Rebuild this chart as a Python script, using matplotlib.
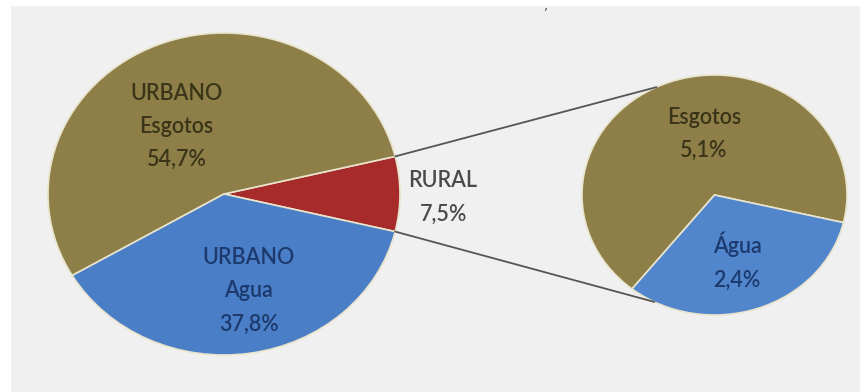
import matplotlib.pyplot as plt
from matplotlib.patches import Rectangle, ConnectionPatch
import numpy as np

# Shares of investment (%)
main_labels = ['RURAL', 'URBANO\nEsgotos', 'URBANO\nAgua']
main_values = [7.5, 54.7, 37.8]
rural_labels = ['Esgotos', 'Água']
rural_values = [5.1, 2.4]

olive = '#8d7f47'
blue = '#4a7ec6'
red = '#a82b2b'

W, H = 860, 392
fig = plt.figure(figsize=(W / 100, H / 100), dpi=100)
fig.patch.set_facecolor('white')

# light gray panel behind the charts
fig.add_artist(Rectangle((11 / W, 0), 1 - 11 / W, 1 - 6 / H,
                         transform=fig.transFigure, facecolor='#f0f0f0',
                         edgecolor='none', zorder=0))
fig.text(546 / W, 1.0, ',', ha='center', va='top', fontsize=9, color='#444444')


def box(x0, y0, x1, y1):
    # pixel box (top-left origin) -> figure fraction rect
    return [x0 / W, 1 - y1 / H, (x1 - x0) / W, (y1 - y0) / H]


def fmt(v):
    return ('%.1f%%' % v).replace('.', ',')


font = ['Lato', 'DejaVu Sans']
tprops = dict(ha='center', va='center', fontsize=15.5, fontweight='semibold',
              family=font, linespacing=1.72, clip_on=False)
wprops = dict(edgecolor='#e9e4cc', linewidth=1.2)

# main pie
ax1 = fig.add_axes(box(48, 33, 400, 355))
start = -main_values[0] / 100 * 360 / 2
w1, _ = ax1.pie(main_values, colors=[red, olive, blue], startangle=start,
                counterclock=True, radius=1, wedgeprops=wprops)
ax1.set_aspect('auto')
ax1.set_xlim(-1, 1)
ax1.set_ylim(-1, 1)

main_pos = [(1.245, -0.02), (-0.27, 0.42), (0.14, -0.60)]
main_colors = ['#4a4a4a', '#3a3418', '#1c3a6e']
for lab, v, (x, y), c in zip(main_labels, main_values, main_pos, main_colors):
    ax1.text(x, y, lab + '\n' + fmt(v), color=c, **tprops)

# breakdown of the rural slice
ax2 = fig.add_axes(box(582, 75, 847, 315))
rstart = start + 0.2
w2, _ = ax2.pie(rural_values, colors=[olive, '#5286cc'], startangle=rstart,
                counterclock=True, radius=1, wedgeprops=wprops)
ax2.set_aspect('auto')
ax2.set_xlim(-1, 1)
ax2.set_ylim(-1, 1)

rural_pos = [(-0.08, 0.51), (0.17, -0.55)]
rural_colors = ['#3a3418', '#1c3a6e']
for lab, v, (x, y), c in zip(rural_labels, rural_values, rural_pos, rural_colors):
    ax2.text(x, y, lab + '\n' + fmt(v), color=c, **tprops)

# connector lines from the rural slice to the breakdown pie
t1, t2 = np.radians(w1[0].theta1), np.radians(w1[0].theta2)
for ta, tb in [(t2, np.radians(116)), (t1, np.radians(243))]:
    con = ConnectionPatch(xyA=(np.cos(ta), np.sin(ta)), coordsA=ax1.transData,
                          xyB=(np.cos(tb), np.sin(tb)), coordsB=ax2.transData,
                          color='#555555', linewidth=1.3, zorder=5)
    fig.add_artist(con)

fig.savefig('out.png', dpi=100, facecolor=fig.get_facecolor())
